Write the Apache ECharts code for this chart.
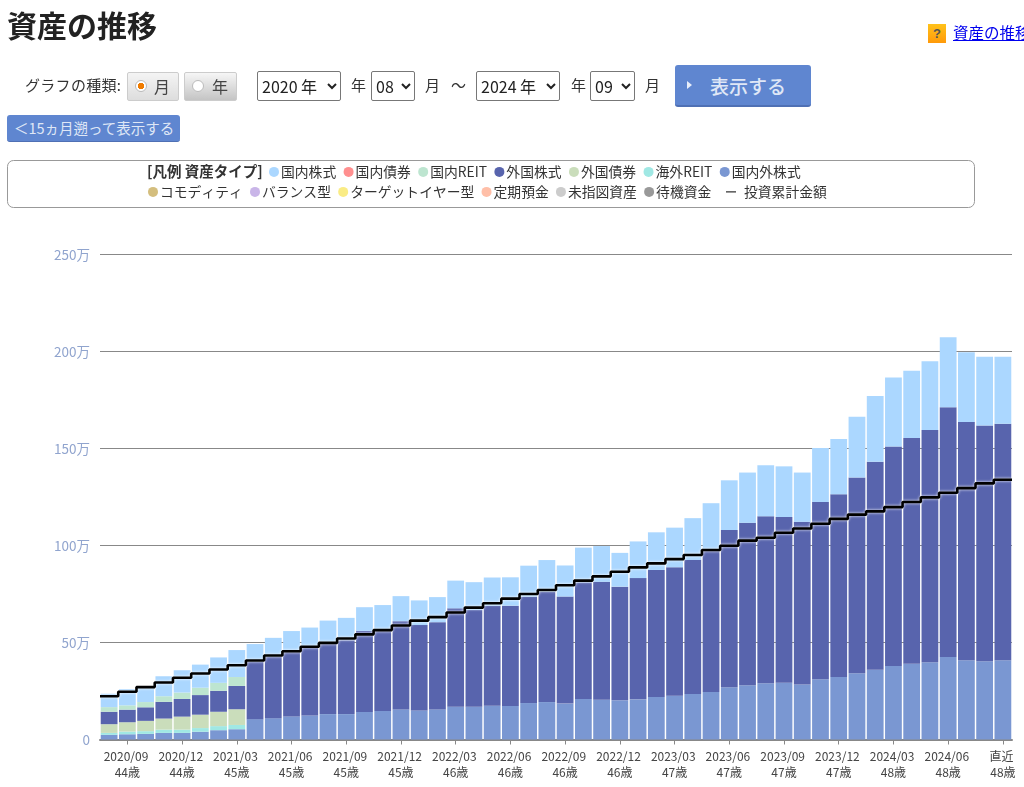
<!DOCTYPE html>
<html lang="ja"><head><meta charset="utf-8">
<script src="https://cdn.jsdelivr.net/npm/echarts@6/dist/echarts.min.js"></script>
<style>
html,body{margin:0;padding:0;width:1024px;height:787px;overflow:hidden;background:#fff;font-family:"Noto Sans CJK JP","Noto Sans",sans-serif;color:#333}
#chart{position:absolute;left:0;top:0;width:1024px;height:787px}
.a{position:absolute;white-space:nowrap}
h1{position:absolute;left:7px;top:5px;margin:0;font-size:30px;line-height:38px;font-weight:700;color:#222}
.lab{font-size:15px;line-height:20px;color:#333}
.radio{box-sizing:border-box;height:29px;top:72px;border:1px solid #ccc;border-radius:2px;font-size:16px;line-height:27px;color:#444}
.dot{position:absolute;left:7px;top:7px;width:12px;height:12px;border-radius:50%;background:#fff;border:1px solid #bbb;box-sizing:border-box}
select{position:absolute;top:71px;height:30px;box-sizing:border-box;font:16px "Noto Sans CJK JP",sans-serif;color:#222;background:#fff;border:1px solid #777;border-radius:2px;padding:0}
.btn{background:#5f86d0;color:#dfe7f6;border-radius:3px;box-sizing:border-box}
</style></head><body>
<div id="chart"></div>
<h1>資産の推移</h1>
<div class="a" style="left:928px;top:24px;width:18px;height:19px;background:linear-gradient(#ffc21a,#ff9a0a);color:#555;font:bold 13px/19px 'Liberation Sans';text-align:center">?</div>
<a class="a" href="#" style="left:953px;top:21px;font-size:15.5px;line-height:22px;color:#00e">資産の推移</a>
<div class="a lab" style="left:25px;top:75px;letter-spacing:.3px">グラフの種類:</div>
<div class="a radio" style="left:127px;width:52px;background:linear-gradient(#f4f4f4,#ddd)"><span class="dot" style="background:radial-gradient(#f07c00 0 3px,#fff 3.5px)"></span><span style="position:absolute;left:26px">月</span></div>
<div class="a radio" style="left:184px;width:53px;background:linear-gradient(#f6f6f6,#c4c4c4)"><span class="dot" style="left:7px"></span><span style="position:absolute;left:27px">年</span></div>
<select style="left:257px;width:84px"><option>2020 年</option></select>
<div class="a lab" style="left:351px;top:75px">年</div>
<select style="left:371px;width:44px"><option>08</option></select>
<div class="a lab" style="left:425px;top:75px">月</div>
<div class="a lab" style="left:451px;top:75px">～</div>
<select style="left:476px;width:84px"><option>2024 年</option></select>
<div class="a lab" style="left:571px;top:75px">年</div>
<select style="left:590px;width:45px"><option>09</option></select>
<div class="a lab" style="left:645px;top:75px">月</div>
<div class="a btn" style="left:675px;top:65px;width:136px;height:42px;border-bottom:2px solid #4f70b4;font-size:19px;font-weight:500;line-height:41px;padding-left:35px">表示する</div>
<div class="a" style="left:687px;top:81px;width:0;height:0;border-left:5px solid #e8eefa;border-top:4px solid transparent;border-bottom:4px solid transparent"></div>
<div class="a btn" style="left:7px;top:115px;width:173px;height:27px;border-bottom:1px solid #4f70b4;font-size:14.5px;line-height:26px;padding-left:7px">＜15ヵ月遡って表示する</div>
<script>
const months = ['2020/08','2020/09','2020/10','2020/11','2020/12','2021/01','2021/02','2021/03','2021/04','2021/05','2021/06','2021/07','2021/08','2021/09','2021/10','2021/11','2021/12','2022/01','2022/02','2022/03','2022/04','2022/05','2022/06','2022/07','2022/08','2022/09','2022/10','2022/11','2022/12','2023/01','2023/02','2023/03','2023/04','2023/05','2023/06','2023/07','2023/08','2023/09','2023/10','2023/11','2023/12','2024/01','2024/02','2024/03','2024/04','2024/05','2024/06','2024/07','2024/08','直近'];
const ages = [44,44,44,44,44,44,45,45,45,45,45,45,45,45,45,45,45,46,46,46,46,46,46,46,46,46,46,46,46,47,47,47,47,47,47,47,47,47,47,47,47,48,48,48,48,48,48,48,48,48];
const worldStock = [2.4,2.7,2.9,3.4,3.4,4.0,4.8,5.3,10.5,11.0,11.9,12.4,13.1,13.1,14.2,14.7,15.5,15.0,15.5,16.9,16.9,17.4,17.3,18.8,19.3,18.5,20.9,20.5,20.2,20.7,21.9,22.6,23.5,24.5,26.9,27.9,29.0,29.3,28.4,31.0,32.2,34.1,36.0,37.9,39.1,39.8,42.5,40.8,40.3,40.8];
const foreignReit = [1.0,1.4,1.4,1.7,1.7,1.9,2.1,2.2];
const foreignBond = [4.5,4.8,5.3,5.7,6.7,6.9,7.4,8.1];
const foreignStock = [6.4,6.5,7.0,8.6,9.1,10.1,10.8,12.0,29.6,31.6,33.2,35.2,36.3,38.1,41.8,42.1,45.5,44.0,45.0,50.7,49.8,51.5,51.7,54.8,56.9,55.2,60.1,60.8,58.6,62.5,65.5,66.2,69.1,73.2,81.1,83.8,86.1,85.4,83.8,91.4,94.2,100.9,107.2,113.1,116.3,119.8,128.7,122.9,121.6,122.0];
const domesticReit = [2.4,2.2,2.7,2.9,3.3,3.8,4.1,4.6];
const domesticStock = [6.9,8.4,7.7,10.3,11.5,11.9,13.1,13.9,9.1,9.8,10.8,10.1,11.9,11.5,12.2,12.5,12.9,12.7,12.9,14.3,14.4,14.6,14.6,16.0,16.3,16.0,17.9,18.4,17.4,18.9,19.4,20.4,21.5,24.1,25.6,25.9,26.3,26.1,25.4,27.8,28.5,31.4,33.8,35.6,34.7,35.4,36.1,35.9,35.4,34.5];
const invested = [22.3,24.6,27.0,29.4,31.8,34.0,36.1,38.3,40.7,43.3,45.5,47.8,49.8,52.1,54.2,56.4,58.8,61.3,63.1,65.5,68.0,70.2,72.6,75.0,77.1,79.5,81.9,84.1,86.5,88.7,90.8,93.0,95.1,97.7,99.9,102.5,104.0,106.6,108.8,111.2,113.7,115.9,117.6,119.8,122.4,124.8,127.2,129.6,132.0,133.9];
const legendRow1 = ['国内株式','国内債券','国内REIT','外国株式','外国債券','海外REIT','国内外株式'];
const legendRow2 = ['コモディティ','バランス型','ターゲットイヤー型','定期預金','未指図資産','待機資金'];
const lineName = '投資累計金額';
const colors = {'国内株式':'#ABD7FF','国内債券':'#FF8F8F','国内REIT':'#BDE5D0','外国株式':'#5864AD','外国債券':'#CADDBB','海外REIT':'#A0E8E4','国内外株式':'#7A97D2','コモディティ':'#D4BE7E','バランス型':'#C9B5E8','ターゲットイヤー型':'#FAEC85','定期預金':'#FFBFA8','未指図資産':'#CCCCCC','待機資金':'#999999'};
const valuesBy = {'国内外株式':worldStock,'海外REIT':foreignReit,'外国債券':foreignBond,'外国株式':foreignStock,'国内REIT':domesticReit,'国内株式':domesticStock};
const stackOrder = ['国内外株式','海外REIT','外国債券','外国株式','国内REIT','国内株式','国内債券','コモディティ','バランス型','ターゲットイヤー型','定期預金','未指図資産','待機資金'];
const lineData = invested.map((v,i)=>[i,v]).concat([[invested.length,invested[invested.length-1]]]);
const font = '"Noto Sans CJK JP","Noto Sans",sans-serif';
const legendBase = {orient:'horizontal',selectedMode:false,itemWidth:10,itemHeight:10,itemGap:8,icon:'circle',textStyle:{fontFamily:font,fontSize:13.8,color:'#333',padding:[0,0,0,-3]}};
const chart = echarts.init(document.getElementById('chart'));
chart.setOption({
  animation:false,
  textStyle:{fontFamily:font},
  graphic:[
    {type:'rect',shape:{x:7.5,y:160.5,width:967,height:47,r:6},style:{fill:'#fff',stroke:'#999',lineWidth:1},z:-1},
    {type:'text',x:147,y:164,style:{text:'[凡例 資産タイプ]',font:'bold 14.5px '+font,fill:'#333'}}
  ],
  legend:[
    Object.assign({},legendBase,{left:264,top:160,itemGap:7.4,data:legendRow1}),
    Object.assign({},legendBase,{left:143,top:180,itemGap:7.2,data:legendRow2}),
    Object.assign({},legendBase,{left:721,top:180,textStyle:Object.assign({},legendBase.textStyle,{padding:[0,0,0,3]}),data:[{name:lineName,icon:'path://M0,4.5H10V5.5H0Z'}]})
  ],
  grid:{left:100,right:12,top:254.5,bottom:47.5,containLabel:false},
  xAxis:[
    {type:'category',data:months,boundaryGap:true,
     axisLine:{lineStyle:{color:'#888',width:2}},
     axisTick:{show:true,alignWithLabel:true,interval:(i)=>i%3===1,length:5,lineStyle:{color:'#888'}},
     axisLabel:{interval:(i)=>i%3===1,fontSize:12,lineHeight:16,color:'#444',margin:9,formatter:(v,i)=>v+' \n'+ages[i]+'歳',hideOverlap:false}},
    {type:'value',min:0,max:months.length,show:false}
  ],
  yAxis:{type:'value',min:0,max:250,interval:50,
    axisLine:{show:false},axisTick:{show:false},
    splitLine:{lineStyle:{color:'#888',width:1}},
    axisLabel:{fontSize:13.5,color:'#90A4CE',margin:10,formatter:(v)=>v===0?'0':v+'万'}},
  series:stackOrder.map(n=>({name:n,type:'bar',stack:'a',xAxisIndex:0,barCategoryGap:'8%',data:valuesBy[n]||[],itemStyle:{color:colors[n]},z:2})).concat([
    {name:lineName,type:'line',xAxisIndex:1,step:'end',data:lineData,symbol:'none',z:5,itemStyle:{color:'#000'},lineStyle:{color:'#000',width:2.6,shadowColor:'#fff',shadowBlur:3}}
  ])
});
</script>
</body></html>
